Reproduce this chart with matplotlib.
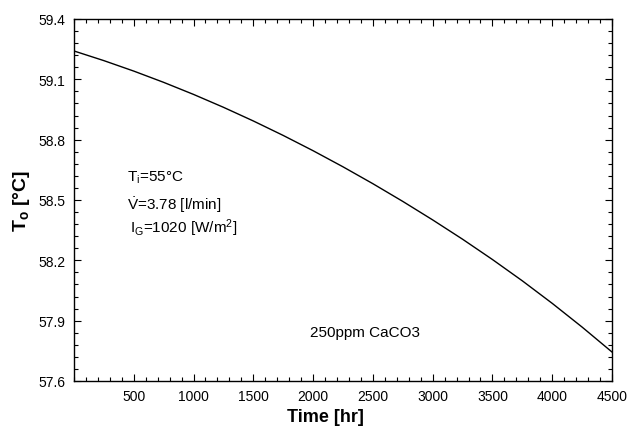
import matplotlib
matplotlib.use("Agg")
import matplotlib.pyplot as plt
from matplotlib.ticker import MultipleLocator, FixedLocator

plt.rcParams['font.family'] = ['Liberation Sans', 'DejaVu Sans']
plt.rcParams['mathtext.fontset'] = 'custom'
plt.rcParams['mathtext.rm'] = 'Liberation Sans'
plt.rcParams['mathtext.it'] = 'Liberation Sans:italic'
plt.rcParams['mathtext.bf'] = 'Liberation Sans:bold'

time_hr = [0, 250, 500, 750, 1000, 1250, 1500, 1750, 2000, 2250, 2500,
           2750, 3000, 3250, 3500, 3750, 4000, 4250, 4500]
t_out = [59.241, 59.193, 59.141, 59.085, 59.025, 58.961, 58.893, 58.821,
         58.745, 58.665, 58.581, 58.493, 58.401, 58.305, 58.204, 58.098,
         57.986, 57.868, 57.744]
x_ticks = [500, 1000, 1500, 2000, 2500, 3000, 3500, 4000, 4500]
y_ticks = [57.6, 57.9, 58.2, 58.5, 58.8, 59.1, 59.4]

fig = plt.figure(figsize=(6.29, 4.31), dpi=100)
ax = fig.add_axes([0.1176, 0.1137, 0.8554, 0.8399])
ax.plot(time_hr, t_out, color='black', lw=1.0)
ax.set_xlim(0, 4500)
ax.set_ylim(57.6, 59.4)
ax.xaxis.set_major_locator(FixedLocator(x_ticks))
ax.xaxis.set_minor_locator(MultipleLocator(100))
ax.yaxis.set_major_locator(FixedLocator(y_ticks))
ax.yaxis.set_minor_locator(MultipleLocator(0.06))
ax.set_xticklabels([str(v) for v in x_ticks])
ax.set_yticklabels([f"{v:.1f}" for v in y_ticks])
ax.tick_params(which='both', direction='in', top=True, right=True, labelsize=10, width=0.8)
ax.tick_params(which='major', length=5, pad=6)
ax.tick_params(which='minor', length=3)
for s in ax.spines.values():
    s.set_linewidth(1.0)

ax.set_xlabel('Time [hr]', fontsize=13, fontweight='bold')
ax.xaxis.set_label_coords(0.467, -0.075)
ax.set_ylabel(r'$\mathbf{T_o}$ [°C]', fontsize=14, fontweight='bold')
ax.yaxis.set_label_coords(-0.078, 0.5)

ax.text(0.0985, 0.5635, r'T$_\mathrm{i}$=55°C', transform=ax.transAxes, fontsize=11, va='center')
ax.text(0.0985, 0.489, r'$\dot{\mathrm{V}}$=3.78 [l/min]', transform=ax.transAxes, fontsize=11, va='center')
ax.text(0.104, 0.4254, r'I$_\mathrm{G}$=1020 [W/m$^2$]', transform=ax.transAxes, fontsize=11, va='center')
ax.text(0.439, 0.135, '250ppm CaCO3', transform=ax.transAxes, fontsize=11, va='center')

fig.savefig('out.png', dpi=100)
